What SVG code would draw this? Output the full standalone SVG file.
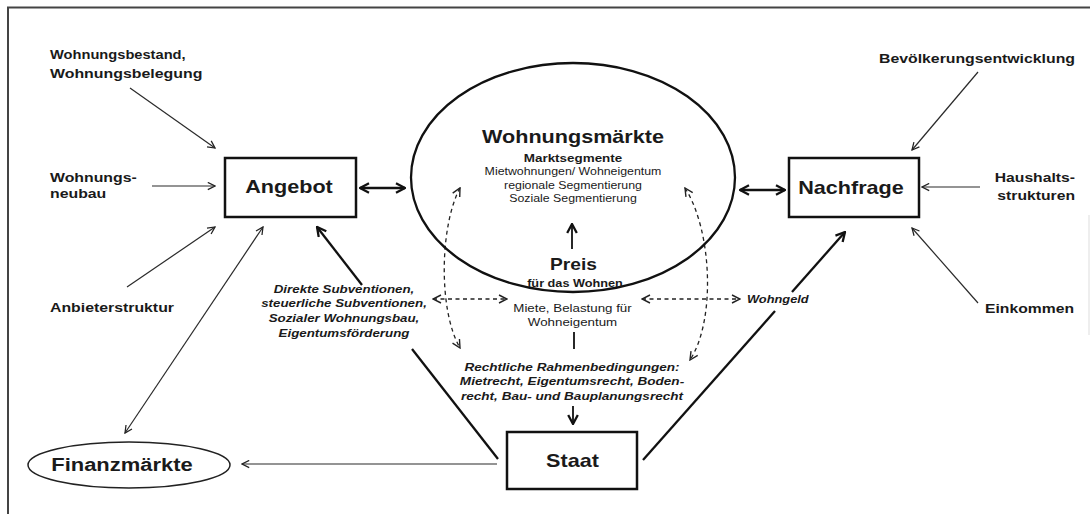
<svg xmlns="http://www.w3.org/2000/svg" width="1090" height="514" viewBox="0 0 1090 514">
<defs>
<style>
.t{font-family:"Liberation Sans",Arial,Helvetica,sans-serif;fill:#1a1a1a}
.b{font-weight:bold}
.i{font-style:italic}
.m{text-anchor:middle}
.e{text-anchor:end}
.box{fill:#fff;stroke:#111;stroke-width:2.5}
.thin{stroke:#2a2a2a;stroke-width:1.2;fill:none}
.thick{stroke:#111;stroke-width:2.3;fill:none}
.dash{stroke:#222;stroke-width:1.3;stroke-dasharray:4 3.5;fill:none}
</style>
<marker id="ah" viewBox="0 0 10 10" refX="9" refY="5" markerWidth="9" markerHeight="9" markerUnits="userSpaceOnUse" orient="auto-start-reverse"><path d="M1,1 L9,5 L1,9" fill="none" stroke="#222" stroke-width="1.4"/></marker>
<marker id="ahT" viewBox="0 0 10 10" refX="9" refY="5" markerWidth="12" markerHeight="12" markerUnits="userSpaceOnUse" orient="auto-start-reverse"><path d="M1.5,1 L9,5 L1.5,9" fill="none" stroke="#111" stroke-width="1.9"/></marker>
<marker id="ahD" viewBox="0 0 10 10" refX="9" refY="5" markerWidth="10" markerHeight="10" markerUnits="userSpaceOnUse" orient="auto-start-reverse"><path d="M1,1 L9,5 L1,9" fill="none" stroke="#222" stroke-width="1.4"/></marker>
</defs>
<rect width="1090" height="514" fill="#fff"/>
<g id="frame">
<path d="M8,514 V7.5 H1090" fill="none" stroke="#444" stroke-width="2"/>
<path d="M1089,215 V335" fill="none" stroke="#ddd" stroke-width="1"/>
</g>

<g id="connectors">
<line class="thin" x1="130" y1="88" x2="215" y2="148" marker-end="url(#ah)"/>
<line class="thin" x1="152" y1="186" x2="215" y2="186" marker-end="url(#ah)"/>
<line class="thin" x1="127" y1="287" x2="215" y2="227" marker-end="url(#ah)"/>
<line class="thin" x1="125" y1="433" x2="263" y2="227" marker-start="url(#ah)" marker-end="url(#ah)"/>
<line class="thin" x1="497" y1="464" x2="242" y2="464" marker-end="url(#ah)"/>
<line class="thin" x1="978" y1="72" x2="912" y2="150" marker-end="url(#ah)"/>
<line class="thin" x1="980" y1="187" x2="922" y2="187" marker-end="url(#ah)"/>
<line class="thin" x1="978" y1="303" x2="912" y2="228" marker-end="url(#ah)"/>
<line class="thick" x1="360" y1="188" x2="405" y2="188" marker-start="url(#ahT)" marker-end="url(#ahT)"/>
<line class="thick" x1="740" y1="190" x2="785" y2="190" marker-start="url(#ahT)" marker-end="url(#ahT)"/>
<line class="thick" x1="498" y1="459" x2="412" y2="349"/>
<line class="thick" x1="362" y1="285" x2="317" y2="227" marker-end="url(#ahT)"/>
<line class="thick" x1="643" y1="460" x2="775" y2="311"/>
<line class="thick" x1="792" y1="292" x2="845" y2="232" marker-end="url(#ahT)"/>
<line class="thick" x1="572" y1="249" x2="572" y2="224" style="stroke-width:1.8" marker-end="url(#ahT)"/>
<line class="thick" x1="574" y1="332" x2="574" y2="349" style="stroke-width:1.8"/>
<line class="thick" x1="573" y1="406" x2="573" y2="424" style="stroke-width:1.8" marker-end="url(#ahT)"/>
<path class="dash" d="M460,188 C440,225 438,310 460,348" marker-start="url(#ahD)" marker-end="url(#ahD)"/>
<path class="dash" d="M685,188 C712,230 716,320 690,360" marker-start="url(#ahD)" marker-end="url(#ahD)"/>
<line class="dash" x1="433" y1="299" x2="507" y2="299" marker-start="url(#ahD)" marker-end="url(#ahD)"/>
<line class="dash" x1="642" y1="299" x2="740" y2="299" marker-start="url(#ahD)" marker-end="url(#ahD)"/>
</g>

<g id="wohnungsmaerkte">
<ellipse cx="573" cy="177.5" rx="162" ry="114.5" fill="none" stroke="#111" stroke-width="2.3"/>
<text class="t b m" font-size="18" transform="translate(573 143) scale(1.2 1)">Wohnungsmärkte</text>
<text class="t b m" font-size="11.2" transform="translate(573 162) scale(1.2 1)">Marktsegmente</text>
<text class="t m" font-size="10.3" transform="translate(573 175) scale(1.2 1)"><tspan x="0" y="0">Mietwohnungen/ Wohneigentum</tspan><tspan x="0" y="14">regionale Segmentierung</tspan><tspan x="0" y="27">Soziale Segmentierung</tspan></text>
<text class="t b m" font-size="16" transform="translate(573.5 270) scale(1.2 1)">Preis</text>
<text class="t b m" font-size="10.6" transform="translate(575 287) scale(1.2 1)">für das Wohnen</text>
</g>

<g id="miete">
<text class="t m" font-size="11.1" transform="translate(572.5 312) scale(1.2 1)"><tspan x="0" y="0">Miete, Belastung für</tspan><tspan x="0" y="14">Wohneigentum</tspan></text>
</g>

<g id="rahmen">
<text class="t b i m" font-size="11.3" transform="translate(572 370.5) scale(1.2 1)"><tspan x="0" y="0">Rechtliche Rahmenbedingungen:</tspan><tspan x="0" y="14.5">Mietrecht, Eigentumsrecht, Boden-</tspan><tspan x="0" y="29.5">recht, Bau- und Bauplanungsrecht</tspan></text>
</g>

<g id="subventionen">
<text class="t b i m" font-size="11.1" transform="translate(344 292.5) scale(1.2 1)"><tspan x="0" y="0">Direkte Subventionen,</tspan><tspan x="0" y="14.5">steuerliche Subventionen,</tspan><tspan x="0" y="29.5">Sozialer Wohnungsbau,</tspan><tspan x="0" y="44.5">Eigentumsförderung</tspan></text>
</g>

<g id="wohngeld">
<text class="t b i" font-size="10.7" transform="translate(747 303) scale(1.2 1)">Wohngeld</text>
</g>

<g id="angebot">
<rect class="box" x="225" y="158" width="131" height="59"/>
<text class="t b m" font-size="18" transform="translate(289 193) scale(1.2 1)">Angebot</text>
</g>

<g id="nachfrage">
<rect class="box" x="789" y="158" width="130" height="59"/>
<text class="t b m" font-size="18" transform="translate(851 193.5) scale(1.2 1)">Nachfrage</text>
</g>

<g id="staat">
<rect class="box" x="507" y="432" width="130" height="57"/>
<text class="t b m" font-size="18" transform="translate(572.5 467) scale(1.2 1)">Staat</text>
</g>

<g id="finanzmaerkte">
<ellipse cx="129" cy="465" rx="101" ry="23" fill="none" stroke="#222" stroke-width="1.5"/>
<text class="t b m" font-size="18.3" transform="translate(122 471) scale(1.2 1)">Finanzmärkte</text>
</g>

<g id="bestand">
<text class="t b" font-size="13" transform="translate(50 59) scale(1.2 1)"><tspan x="0" y="0" textLength="113" lengthAdjust="spacingAndGlyphs">Wohnungsbestand,</tspan><tspan x="0" y="19" textLength="127" lengthAdjust="spacingAndGlyphs">Wohnungsbelegung</tspan></text>
</g>
<g id="neubau">
<text class="t b" font-size="13.2" transform="translate(50 182) scale(1.2 1)"><tspan x="0" y="0">Wohnungs-</tspan><tspan x="0" y="16.5">neubau</tspan></text>
</g>
<g id="anbieter">
<text class="t b" font-size="13.2" transform="translate(50 312) scale(1.2 1)">Anbieterstruktur</text>
</g>
<g id="bevoelkerung">
<text class="t b e" font-size="13.2" transform="translate(1075 63) scale(1.2 1)">Bevölkerungsentwicklung</text>
</g>
<g id="haushalt">
<text class="t b e" font-size="13.1" transform="translate(1075 182) scale(1.2 1)"><tspan x="0" y="0">Haushalts-</tspan><tspan x="0" y="18">strukturen</tspan></text>
</g>
<g id="einkommen">
<text class="t b e" font-size="13.1" transform="translate(1074 313) scale(1.2 1)">Einkommen</text>
</g>
</svg>
